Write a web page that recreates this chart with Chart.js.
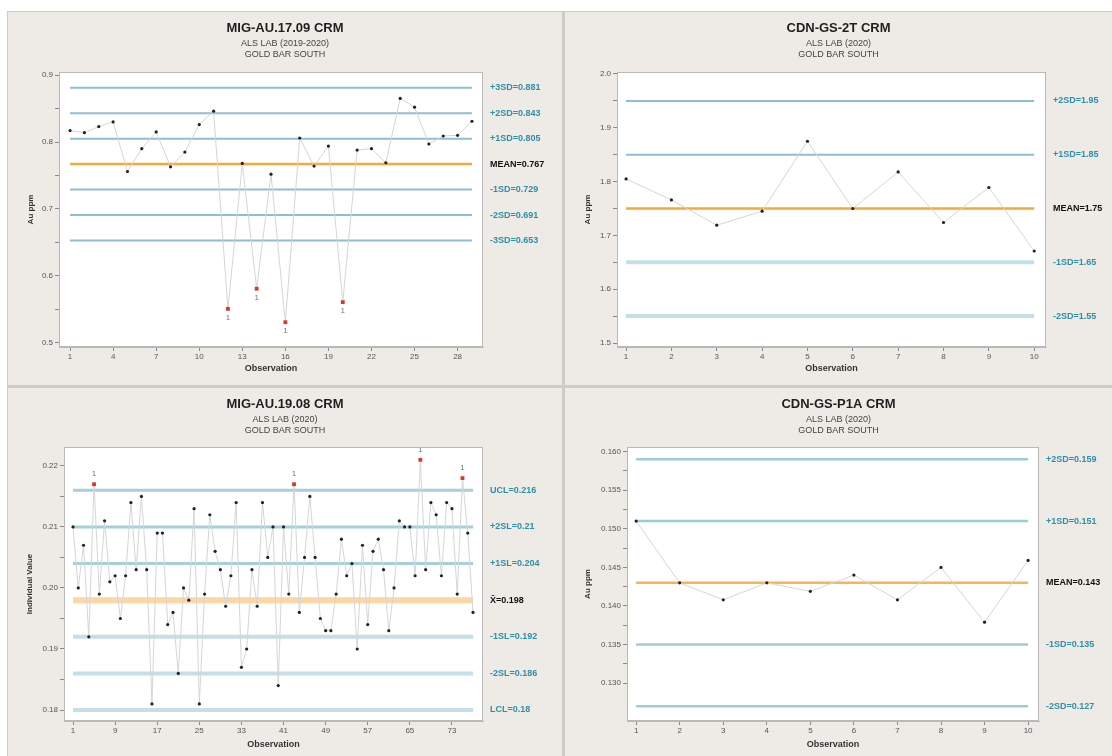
<!DOCTYPE html>
<html>
<head>
<meta charset="utf-8">
<title>Gold Bar South CRM control charts</title>
<script src="https://cdn.jsdelivr.net/npm/chart.js@4.4.1/dist/chart.umd.min.js"></script>
<style>
  body { margin: 0; background: #ffffff; width: 1112px; height: 756px; overflow: hidden; position: relative; }
  #frame { position: absolute; left: 7px; top: 11px; right: 0; bottom: 0; background: #cfccc6; }
  .panel { position: absolute; background: #eeebe6; }
  .panel canvas { display: block; }
</style>
</head>
<body>
<div id="frame"></div>
<div class="panel" style="left:8px;top:12px;width:554px;height:373px"><canvas id="chartAu1709" width="554" height="373"></canvas></div>
<div class="panel" style="left:565px;top:12px;width:547px;height:373px"><canvas id="chartGs2t" width="547" height="373"></canvas></div>
<div class="panel" style="left:8px;top:388px;width:554px;height:368px"><canvas id="chartAu1908" width="554" height="368"></canvas></div>
<div class="panel" style="left:565px;top:388px;width:547px;height:368px"><canvas id="chartGsP1a" width="547" height="368"></canvas></div>

<script>
// ---- MIG-AU.17.09 CRM (ALS 2019-2020) ----
const au1709Values = [0.817, 0.814, 0.823, 0.830, 0.756, 0.790, 0.815, 0.763, 0.785, 0.826,
  0.846, 0.551, 0.768, 0.581, 0.752, 0.531, 0.806, 0.764, 0.794, 0.561,
  0.788, 0.790, 0.769, 0.865, 0.852, 0.797, 0.809, 0.810, 0.831];
const au1709Flagged = [12, 14, 16, 20];
const au1709Limits = [0.881, 0.843, 0.805, 0.767, 0.729, 0.691, 0.653];
const au1709LimitLabels = ["+3SD=0.881", "+2SD=0.843", "+1SD=0.805", "MEAN=0.767", "-1SD=0.729", "-2SD=0.691", "-3SD=0.653"];
const au1709XTicks = [1, 4, 7, 10, 13, 16, 19, 22, 25, 28];
const au1709YTicks = [0.5, 0.6, 0.7, 0.8, 0.9];
const au1709YLabels = ["0.5", "0.6", "0.7", "0.8", "0.9"];

// ---- CDN-GS-2T CRM (ALS 2020) ----
const gs2tValues = [1.805, 1.766, 1.719, 1.745, 1.875, 1.750, 1.818, 1.724, 1.789, 1.671];
const gs2tLimits = [1.95, 1.85, 1.75, 1.65, 1.55];
const gs2tLimitLabels = ["+2SD=1.95", "+1SD=1.85", "MEAN=1.75", "-1SD=1.65", "-2SD=1.55"];
const gs2tXTicks = [1, 2, 3, 4, 5, 6, 7, 8, 9, 10];
const gs2tYTicks = [1.5, 1.6, 1.7, 1.8, 1.9, 2.0];
const gs2tYLabels = ["1.5", "1.6", "1.7", "1.8", "1.9", "2.0"];

// ---- MIG-AU.19.08 CRM (ALS 2020) ----
const au1908Values = [0.210, 0.200, 0.207, 0.192, 0.217, 0.199, 0.211, 0.201, 0.202, 0.195,
  0.202, 0.214, 0.203, 0.215, 0.203, 0.181, 0.209, 0.209, 0.194, 0.196,
  0.186, 0.200, 0.198, 0.213, 0.181, 0.199, 0.212, 0.206, 0.203, 0.197,
  0.202, 0.214, 0.187, 0.190, 0.203, 0.197, 0.214, 0.205, 0.210, 0.184,
  0.210, 0.199, 0.217, 0.196, 0.205, 0.215, 0.205, 0.195, 0.193, 0.193,
  0.199, 0.208, 0.202, 0.204, 0.190, 0.207, 0.194, 0.206, 0.208, 0.203,
  0.193, 0.200, 0.211, 0.210, 0.210, 0.202, 0.221, 0.203, 0.214, 0.212,
  0.202, 0.214, 0.213, 0.199, 0.218, 0.209, 0.196];
const au1908Flagged = [5, 43, 67, 75];
const au1908Limits = [0.216, 0.21, 0.204, 0.198, 0.192, 0.186, 0.18];
const au1908LimitLabels = ["UCL=0.216", "+2SL=0.21", "+1SL=0.204", "X\u0304=0.198", "-1SL=0.192", "-2SL=0.186", "LCL=0.18"];
const au1908XTicks = [1, 9, 17, 25, 33, 41, 49, 57, 65, 73];
const au1908YTicks = [0.18, 0.19, 0.20, 0.21, 0.22];
const au1908YLabels = ["0.18", "0.19", "0.20", "0.21", "0.22"];

// ---- CDN-GS-P1A CRM (ALS 2020) ----
const gsP1aValues = [0.151, 0.143, 0.1408, 0.143, 0.1419, 0.144, 0.1408, 0.145, 0.1379, 0.1459];
const gsP1aLimits = [0.159, 0.151, 0.143, 0.135, 0.127];
const gsP1aLimitLabels = ["+2SD=0.159", "+1SD=0.151", "MEAN=0.143", "-1SD=0.135", "-2SD=0.127"];
const gsP1aXTicks = [1, 2, 3, 4, 5, 6, 7, 8, 9, 10];
const gsP1aYTicks = [0.130, 0.135, 0.140, 0.145, 0.150, 0.155, 0.160];
const gsP1aYLabels = ["0.130", "0.135", "0.140", "0.145", "0.150", "0.155", "0.160"];

const TEAL_TEXT = "#2f8fa9";
const FONT = "'Liberation Sans', 'DejaVu Sans', sans-serif";

// 차트 영역 흰색 배경 + 테두리
const plotFrame = {
  id: "plotFrame",
  beforeDatasetsDraw(chart) {
    const { ctx, chartArea: a } = chart;
    ctx.save();
    ctx.fillStyle = "#ffffff";
    ctx.fillRect(a.left, a.top, a.right - a.left, a.bottom - a.top);
    ctx.restore();
  },
  afterDraw(chart) {
    const { ctx, chartArea: a } = chart;
    ctx.save();
    ctx.strokeStyle = "#b9b9b9";
    ctx.lineWidth = 1;
    ctx.strokeRect(a.left + 0.5, a.top + 0.5, a.right - a.left - 1, a.bottom - a.top - 1);
    ctx.restore();
  }
};

// 관리 이탈 점 옆의 "1" 표시
const flagLabels = {
  id: "flagLabels",
  afterDatasetsDraw(chart, args, opts) {
    const meta = chart.getDatasetMeta(0);
    const { ctx } = chart;
    ctx.save();
    ctx.fillStyle = "#777";
    ctx.font = "8px " + FONT;
    ctx.textAlign = "center";
    ctx.textBaseline = "middle";
    (opts.flagged || []).forEach((obs) => {
      const pt = meta.data[obs - 1];
      if (pt) ctx.fillText("1", pt.x, pt.y + opts.offset);
    });
    ctx.restore();
  }
};

function withMinor(major) {
  const out = [];
  major.forEach((v, i) => {
    out.push(v);
    if (i < major.length - 1) out.push((v + major[i + 1]) / 2);
  });
  return out;
}

function drawControlChart(id, cfg) {
  const n = cfg.values.length;
  const datasets = [{
    data: cfg.values.map((v, i) => ({ x: i + 1, y: v })),
    showLine: true,
    borderColor: "#d6d6d6",
    borderWidth: 1,
    pointRadius: (c) => (cfg.flagged.includes(c.dataIndex + 1) ? 2.7 : 1.6),
    pointStyle: (c) => (cfg.flagged.includes(c.dataIndex + 1) ? "rect" : "circle"),
    pointBackgroundColor: (c) => (cfg.flagged.includes(c.dataIndex + 1) ? "#e5322b" : "#222"),
    pointBorderWidth: 0,
    order: 0
  }];
  cfg.limits.forEach((v, i) => {
    datasets.push({
      data: [{ x: 1, y: v }, { x: n, y: v }],
      showLine: true,
      borderColor: cfg.lineColors[i],
      borderWidth: cfg.lineWidths[i],
      pointRadius: 0,
      order: 1
    });
  });

  const minorTicks = withMinor(cfg.yTicks);

  new Chart(document.getElementById(id), {
    type: "scatter",
    data: { datasets },
    options: {
      responsive: false,
      animation: false,
      layout: { padding: 0 },
      plugins: {
        legend: { display: false },
        tooltip: { enabled: false },
        title: {
          display: true,
          text: cfg.title,
          color: "#1e1e1e",
          font: { family: FONT, size: 13, weight: "bold", lineHeight: 1.2 },
          padding: { top: 9, bottom: 2 }
        },
        subtitle: {
          display: true,
          text: cfg.subtitle,
          color: "#444",
          font: { family: FONT, size: 9, lineHeight: 1.15 },
          padding: { top: 0, bottom: cfg.subPad }
        },
        flagLabels: { flagged: cfg.flagged, offset: cfg.flagOffset }
      },
      scales: {
        x: {
          type: "linear",
          min: cfg.xMin,
          max: cfg.xMax,
          afterBuildTicks: (s) => { s.ticks = cfg.xTicks.map((v) => ({ value: v })); },
          afterFit: (s) => { s.height = cfg.bottom; },
          grid: { drawOnChartArea: false, tickLength: 4, color: "#8a8a8a" },
          border: { color: "#b9b9b9" },
          ticks: { autoSkip: false, maxRotation: 0, padding: 1, color: "#555", font: { family: FONT, size: 8 } },
          title: {
            display: true, text: "Observation", color: "#333",
            font: { family: FONT, size: 9, weight: "bold" },
            padding: { top: 0, bottom: cfg.xTitlePad }
          }
        },
        y: {
          min: cfg.yMin,
          max: cfg.yMax,
          afterBuildTicks: (s) => { s.ticks = minorTicks.map((v) => ({ value: v })); },
          afterFit: (s) => { s.width = cfg.left; },
          grid: { drawOnChartArea: false, tickLength: 4, color: "#8a8a8a" },
          border: { color: "#b9b9b9" },
          ticks: {
            autoSkip: false, padding: 2, color: "#555", font: { family: FONT, size: 8 },
            callback: (v) => {
              const k = cfg.yTicks.findIndex((t) => Math.abs(t - v) < 1e-9);
              return k >= 0 ? cfg.yLabels[k] : "";
            }
          },
          title: {
            display: true, text: cfg.yTitle, color: "#333",
            font: { family: FONT, size: 8, weight: "bold" },
            padding: { top: cfg.yTitlePad, bottom: 0 }
          }
        },
        yr: {
          position: "right",
          min: cfg.yMin,
          max: cfg.yMax,
          afterBuildTicks: (s) => { s.ticks = cfg.limits.map((v) => ({ value: v })); },
          afterFit: (s) => { s.width = cfg.right; },
          grid: { display: false, drawTicks: false },
          border: { display: false },
          ticks: {
            autoSkip: false, padding: 7,
            font: { family: FONT, size: 9, weight: "bold" },
            color: (c) => (c.index === cfg.meanIndex ? "#111" : TEAL_TEXT),
            callback: (v, i) => cfg.limitLabels[i]
          }
        }
      }
    },
    plugins: [plotFrame, flagLabels]
  });
}

const TEAL = "#8bbfd1", TEAL_LIGHT = "#c3dfe8", ORANGE = "#f6a93b";

document.addEventListener("DOMContentLoaded", () => {
  drawControlChart("chartAu1709", {
    title: "MIG-AU.17.09 CRM", subtitle: ["ALS LAB (2019-2020)", "GOLD BAR SOUTH"],
    values: au1709Values, flagged: au1709Flagged, flagOffset: 9,
    limits: au1709Limits, limitLabels: au1709LimitLabels, meanIndex: 3,
    lineColors: [TEAL, TEAL, TEAL, ORANGE, TEAL, TEAL, TEAL],
    lineWidths: [2, 2, 2, 2.5, 2, 2, 2],
    xTicks: au1709XTicks, yTicks: au1709YTicks, yLabels: au1709YLabels,
    xMin: 0.23, xMax: 29.77, yMin: 0.494, yMax: 0.9045,
    yTitle: "Au ppm", left: 51, right: 79, bottom: 38, subPad: 12.7, xTitlePad: 10.6, yTitlePad: 18
  });

  drawControlChart("chartGs2t", {
    title: "CDN-GS-2T CRM", subtitle: ["ALS LAB (2020)", "GOLD BAR SOUTH"],
    values: gs2tValues, flagged: [], flagOffset: 0,
    limits: gs2tLimits, limitLabels: gs2tLimitLabels, meanIndex: 2,
    lineColors: [TEAL, TEAL, ORANGE, TEAL_LIGHT, TEAL_LIGHT],
    lineWidths: [2, 2, 2.5, 4, 4],
    xTicks: gs2tXTicks, yTicks: gs2tYTicks, yLabels: gs2tYLabels,
    xMin: 0.8, xMax: 10.26, yMin: 1.4926, yMax: 2.0037,
    yTitle: "Au ppm", left: 52, right: 66, bottom: 38, subPad: 12.7, xTitlePad: 10.6, yTitlePad: 18
  });

  drawControlChart("chartAu1908", {
    title: "MIG-AU.19.08 CRM", subtitle: ["ALS LAB (2020)", "GOLD BAR SOUTH"],
    values: au1908Values, flagged: au1908Flagged, flagOffset: -10,
    limits: au1908Limits, limitLabels: au1908LimitLabels, meanIndex: 3,
    lineColors: ["#a6cfdc", "#a6cfdc", "#a6cfdc", "#fcd6a4", TEAL_LIGHT, TEAL_LIGHT, TEAL_LIGHT],
    lineWidths: [3, 3, 3, 6, 4, 4, 4],
    xTicks: au1908XTicks, yTicks: au1908YTicks, yLabels: au1908YLabels,
    xMin: -0.71, xMax: 78.9, yMin: 0.1782, yMax: 0.2231,
    yTitle: "Individual Value", left: 56, right: 79, bottom: 35, subPad: 11.7, xTitlePad: 5.6, yTitlePad: 17
  });

  drawControlChart("chartGsP1a", {
    title: "CDN-GS-P1A CRM", subtitle: ["ALS LAB (2020)", "GOLD BAR SOUTH"],
    values: gsP1aValues, flagged: [], flagOffset: 0,
    limits: gsP1aLimits, limitLabels: gsP1aLimitLabels, meanIndex: 2,
    lineColors: ["#9ccbd9", "#9ccbd9", "#f8b553", "#9ccbd9", "#9ccbd9"],
    lineWidths: [2.5, 2.5, 2.5, 2.5, 2.5],
    xTicks: gsP1aXTicks, yTicks: gsP1aYTicks, yLabels: gsP1aYLabels,
    xMin: 0.79, xMax: 10.25, yMin: 0.1251, yMax: 0.1606,
    yTitle: "Au ppm", left: 62, right: 73, bottom: 35, subPad: 11.7, xTitlePad: 5.6, yTitlePad: 17.5
  });
});
</script>
</body>
</html>
